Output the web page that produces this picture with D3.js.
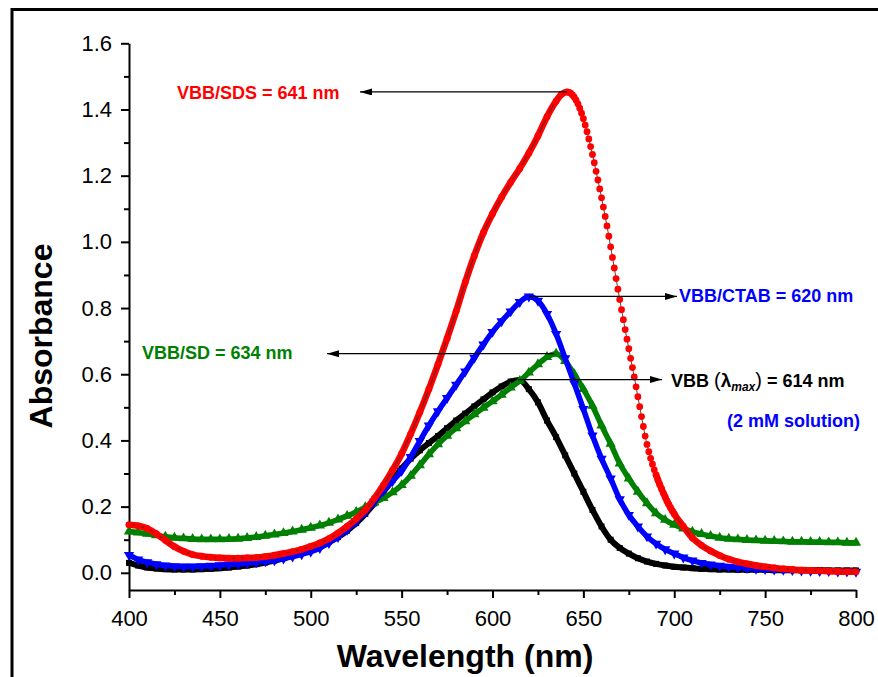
<!DOCTYPE html>
<html><head><meta charset="utf-8">
<script src="https://cdn.jsdelivr.net/npm/d3@7"></script>
<style>body{margin:0;background:#fff} svg{display:block}</style>
</head><body>
<svg id="chart" width="878" height="677"></svg>
<script>
// ---------- DATA ----------
const wavelengths = [400,405,410,415,420,425,430,435,440,445,450,455,460,465,470,475,480,485,490,495,
  500,505,510,515,520,525,530,535,540,545,550,555,560,565,570,575,580,585,590,595,
  600,605,610,615,620,625,630,635,640,645,650,655,660,665,670,675,680,685,690,695,
  700,705,710,715,720,725,730,735,740,745,750,755,760,765,770,775,780,785,790,795,800];

const absVBB = [0.030,0.022,0.016,0.013,0.011,0.010,0.010,0.010,0.011,0.012,0.014,0.016,0.019,0.022,0.026,0.031,0.037,0.044,0.052,0.061,
  0.071,0.082,0.094,0.108,0.127,0.150,0.178,0.210,0.245,0.280,0.315,0.345,0.370,0.392,0.413,0.437,0.460,0.481,0.503,0.524,
  0.545,0.563,0.578,0.582,0.555,0.515,0.460,0.410,0.355,0.300,0.245,0.190,0.140,0.100,0.075,0.058,0.044,0.034,0.027,0.022,
  0.018,0.016,0.014,0.012,0.011,0.010,0.010,0.009,0.009,0.009,0.009,0.008,0.008,0.008,0.008,0.008,0.008,0.007,0.007,0.007,0.007];

const absCTAB = [0.054,0.040,0.032,0.026,0.022,0.020,0.019,0.019,0.020,0.021,0.023,0.025,0.027,0.029,0.032,0.035,0.038,0.043,0.049,0.056,
  0.064,0.075,0.090,0.108,0.130,0.155,0.183,0.215,0.248,0.277,0.308,0.350,0.398,0.445,0.488,0.528,0.568,0.608,0.650,0.690,
  0.728,0.760,0.790,0.818,0.835,0.822,0.782,0.722,0.648,0.572,0.495,0.415,0.345,0.285,0.222,0.175,0.140,0.110,0.088,0.071,
  0.058,0.046,0.037,0.030,0.025,0.021,0.018,0.016,0.014,0.012,0.011,0.010,0.009,0.008,0.007,0.006,0.005,0.005,0.004,0.004,0.003];

const absSD = [0.125,0.122,0.118,0.113,0.109,0.106,0.104,0.102,0.101,0.101,0.101,0.102,0.103,0.105,0.108,0.112,0.116,0.120,0.125,0.130,
  0.136,0.143,0.151,0.161,0.172,0.184,0.198,0.212,0.226,0.243,0.265,0.293,0.325,0.358,0.388,0.414,0.437,0.458,0.479,0.499,
  0.518,0.538,0.560,0.580,0.605,0.630,0.652,0.662,0.640,0.600,0.555,0.505,0.445,0.390,0.330,0.285,0.245,0.210,0.180,0.160,
  0.145,0.134,0.124,0.117,0.111,0.106,0.103,0.101,0.099,0.098,0.097,0.096,0.095,0.094,0.094,0.093,0.093,0.092,0.092,0.091,0.091];

const sdsWavelengths = [400,405,410,415,420,425,430,435,440,445,450,455,460,465,470,475,480,485,490,495,
  500,505,510,515,520,525,530,535,540,545,550,555,560,565,570,575,580,585,590,595,
  600,605,610,615,620,625,630,635,638,
  641,642,643,644,645,646,647,648,649,650,651,652,653,654,655,656,657,658,659,660,
  661,662,663,664,665,666,667,668,669,670,671,672,673,674,675,676,677,678,679,680,
  681,682,683,684,685,686,687,688,689,690,691,692,693,694,695,696,697,698,699,700,
  705,710,715,720,725,730,735,740,745,750,755,760,765,770,775,780,785,790,795,800];

const absSDS = [0.145,0.142,0.134,0.118,0.098,0.079,0.065,0.055,0.050,0.047,0.045,0.044,0.044,0.045,0.046,0.049,0.053,0.058,0.064,0.071,
  0.080,0.090,0.103,0.120,0.140,0.163,0.190,0.225,0.265,0.310,0.360,0.420,0.485,0.555,0.630,0.708,0.790,0.878,0.958,1.028,
  1.085,1.135,1.180,1.222,1.268,1.320,1.378,1.425,1.446,
  1.453,1.452,1.449,1.444,1.437,1.428,1.417,1.404,1.389,1.372,1.353,1.333,1.311,1.288,1.264,1.239,1.213,1.187,1.160,1.133,
  1.105,1.077,1.048,1.017,0.985,0.953,0.921,0.889,0.857,0.826,0.795,0.765,0.735,0.706,0.677,0.648,0.620,0.592,0.562,0.532,
  0.502,0.472,0.442,0.413,0.388,0.366,0.346,0.328,0.311,0.296,0.281,0.267,0.254,0.241,0.229,0.217,0.206,0.196,0.187,0.178,
  0.140,0.105,0.083,0.066,0.052,0.041,0.033,0.027,0.022,0.018,0.015,0.012,0.010,0.008,0.007,0.006,0.005,0.004,0.003,0.003];

const xTicks = [400,450,500,550,600,650,700,750,800];
const xMinorTicks = [425,475,525,575,625,675,725,775];
const yTicks = [0.0,0.2,0.4,0.6,0.8,1.0,1.2,1.4,1.6];
const yMinorTicks = [0.1,0.3,0.5,0.7,0.9,1.1,1.3,1.5];

const peakWavelengths = [641,620,634,614];
const peakAbs = [1.453,0.835,0.662,0.584];

// ---------- CHART ----------
const svg = d3.select("#chart");
const FONT = "'Liberation Sans', Arial, Helvetica, sans-serif";
const x = d3.scaleLinear().domain([400,800]).range([129,856]);
const y = d3.scaleLinear().domain([-0.052,1.6]).range([590,43.3]);

// outer frame
svg.append("rect").attr("x",12).attr("y",9.5).attr("width",900).attr("height",720)
  .attr("fill","none").attr("stroke","#000").attr("stroke-width",3);

// arrow marker
svg.append("defs").append("marker")
  .attr("id","arrow").attr("viewBox","0 0 12 7").attr("refX",12).attr("refY",3.5)
  .attr("markerWidth",12).attr("markerHeight",7).attr("markerUnits","userSpaceOnUse")
  .attr("orient","auto")
  .append("path").attr("d","M0,0 L12,3.5 L0,7 Z").attr("fill","#000");

// axes
function styleAxis(g){
  g.select(".domain").attr("stroke","#000").attr("stroke-width",2);
  g.selectAll(".tick line").attr("stroke","#000").attr("stroke-width",2);
  g.selectAll(".tick text").attr("font-family",FONT).attr("font-size",22).attr("fill","#000");
}
const gx = svg.append("g").attr("transform","translate(0,590)")
  .call(d3.axisBottom(x).tickValues(xTicks).tickSize(8).tickSizeOuter(0).tickPadding(12).tickFormat(d3.format("d")));
styleAxis(gx);
const gxm = svg.append("g").attr("transform","translate(0,590)")
  .call(d3.axisBottom(x).tickValues(xMinorTicks).tickSize(5).tickFormat(""));
gxm.select(".domain").remove(); styleAxis(gxm);

const gy = svg.append("g").attr("transform","translate(129,0)")
  .call(d3.axisLeft(y).tickValues(yTicks).tickSize(8).tickSizeOuter(0).tickPadding(9).tickFormat(d3.format(".1f")));
styleAxis(gy);
const gym = svg.append("g").attr("transform","translate(129,0)")
  .call(d3.axisLeft(y).tickValues(yMinorTicks).tickSize(5).tickFormat(""));
gym.select(".domain").remove(); styleAxis(gym);

// axis titles
svg.append("text").attr("x",465).attr("y",667).attr("text-anchor","middle")
  .attr("font-family",FONT).attr("font-weight","bold").attr("font-size",32).text("Wavelength (nm)");
svg.append("text").attr("transform","translate(52,336) rotate(-90)").attr("text-anchor","middle")
  .attr("font-family",FONT).attr("font-weight","bold").attr("font-size",32).text("Absorbance");

// series
function series(wl, ab){ return wl.map((w,i)=>({w, a: ab[i]})); }
const sVBB = series(wavelengths, absVBB);
const sCTAB = series(wavelengths, absCTAB);
const sSD = series(wavelengths, absSD);
const sSDS = series(sdsWavelengths, absSDS);

const line = d3.line().x(d=>x(d.w)).y(d=>y(d.a)).curve(d3.curveMonotoneX);
const plot = svg.append("g");

function band(data, color, width, defined){
  const l = defined ? line.defined(defined) : line.defined(()=>true);
  plot.append("path").attr("d", l(data)).attr("fill","none").attr("stroke",color)
    .attr("stroke-width",width).attr("stroke-linejoin","round").attr("stroke-linecap","round");
  line.defined(()=>true);
}
function markers(data, color, type, size, rotate){
  plot.append("g").selectAll("path").data(data).join("path")
    .attr("d", d3.symbol().type(type).size(size))
    .attr("transform", d=>`translate(${x(d.w)},${y(d.a)})${rotate?" rotate(180)":""}`)
    .attr("fill", color);
}

// black VBB (squares)
band(sVBB, "#000", 6);
markers(sVBB, "#000", d3.symbolSquare, 36);
// green SD (up triangles)
band(sSD, "#008000", 5.5);
markers(sSD, "#008000", d3.symbolTriangle, 46);
// blue CTAB (down triangles)
band(sCTAB, "#0000ff", 5.5);
markers(sCTAB, "#0000ff", d3.symbolTriangle, 46, true);
// red SDS (circles)
band(sSDS, "#ff0000", 6.6, d => d.w <= 642 || d.w >= 690);
plot.append("path").attr("d", line(sSDS)).attr("fill","none").attr("stroke","#333").attr("stroke-width",0.9);
plot.append("g").selectAll("circle").data(sSDS).join("circle")
  .attr("cx", d=>x(d.w)).attr("cy", d=>y(d.a)).attr("r",3.4).attr("fill","#ff0000");

// annotations (arrows from peaks)
const arrowTips = [360, 677, 327, 662];
const ann = svg.append("g");
peakWavelengths.forEach((w,i)=>{
  const py = y(peakAbs[i]);
  const px = x(w);
  ann.append("line").attr("x1",px).attr("y1",py).attr("x2",arrowTips[i]).attr("y2",py)
    .attr("stroke","#000").attr("stroke-width",1.2).attr("marker-end","url(#arrow)");
});

function label(xp, yp, color, txt){
  return ann.append("text").attr("x",xp).attr("y",yp).attr("font-family",FONT)
    .attr("font-weight","bold").attr("font-size",18).attr("fill",color).text(txt);
}
label(177, 99, "#ff0000", "VBB/SDS = 641 nm");
label(679, 302, "#0000ff", "VBB/CTAB = 620 nm");
label(142, 359, "#008000", "VBB/SD = 634 nm");
label(727, 427, "#0000ff", "(2 mM solution)");

const t = ann.append("text").attr("x",671).attr("y",387).attr("font-family",FONT)
  .attr("font-size",18).attr("fill","#000");
t.append("tspan").attr("font-weight","bold").text("VBB ");
t.append("tspan").attr("font-weight","normal").attr("font-size",20).text("(");
t.append("tspan").attr("font-weight","bold").attr("font-size",19).text("λ");
t.append("tspan").attr("font-weight","bold").attr("font-style","italic").attr("font-size",12).attr("dy",4).text("max");
t.append("tspan").attr("font-weight","normal").attr("font-size",20).attr("dy",-4).text(")");
t.append("tspan").attr("font-weight","bold").text(" = 614 nm");
</script>
</body></html>
